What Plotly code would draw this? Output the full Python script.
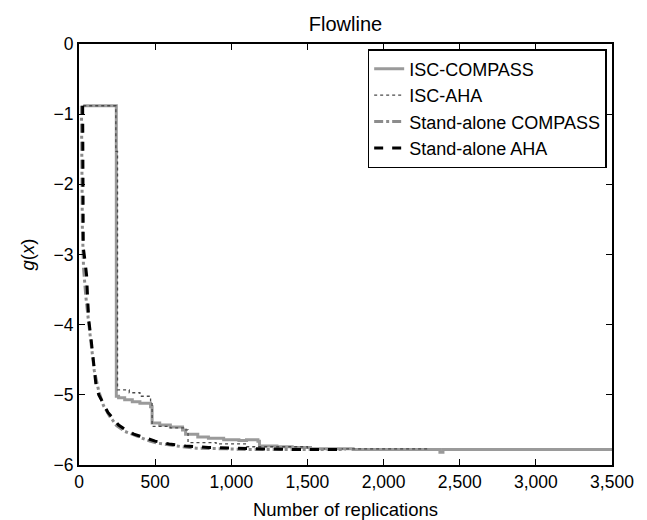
import plotly.graph_objects as go

# ---- data ----
isc_compass_x = [28, 245, 260, 300, 350, 400, 470, 480, 530, 600, 680, 700, 780, 850, 950,
                 1050, 1100, 1175, 1185, 1300, 1400, 1520, 1800, 2370, 2390, 3500]
isc_compass_y = [-0.88, -5.02, -5.04, -5.07, -5.10, -5.12, -5.17, -5.40, -5.43, -5.46, -5.50,
                 -5.56, -5.60, -5.62, -5.64, -5.65, -5.64, -5.66, -5.73, -5.74, -5.75, -5.77,
                 -5.78, -5.82, -5.78, -5.78]

isc_aha_x = [28, 242, 253, 330, 400, 470, 480, 600, 700, 716, 900, 1100, 1500, 2300]
isc_aha_y = [-0.88, -1.53, -4.93, -4.97, -5.02, -5.10, -5.45, -5.47, -5.50, -5.68, -5.70,
             -5.74, -5.77, -5.78]

sa_compass_x = [16, 18, 22, 30, 45, 65, 80, 100, 130, 160, 200, 247, 300, 356, 420, 465, 520,
                575, 680, 771, 870, 968, 1100, 1272, 1500, 1750]
sa_compass_y = [-0.88, -2.0, -2.6, -3.2, -3.6, -4.0, -4.3, -4.65, -4.95, -5.15, -5.30, -5.44,
                -5.52, -5.57, -5.62, -5.66, -5.69, -5.71, -5.74, -5.76, -5.77, -5.77, -5.78,
                -5.78, -5.78, -5.78]

sa_aha_x = [24, 26, 28, 40, 50, 57, 65, 79, 95, 111, 130, 155, 190, 221, 260, 308, 360, 417,
            500, 592, 700, 850, 1000, 1200, 1400, 1600, 1750]
sa_aha_y = [-0.88, -2.0, -2.9, -3.1, -3.3, -3.65, -3.95, -4.2, -4.55, -4.85, -5.0, -5.11,
            -5.25, -5.33, -5.43, -5.50, -5.56, -5.60, -5.66, -5.70, -5.73, -5.75, -5.76,
            -5.77, -5.78, -5.78, -5.78]

x_tick_vals = [0, 500, 1000, 1500, 2000, 2500, 3000, 3500]
x_tick_text = ["0", "500", "1,000", "1,500", "2,000", "2,500", "3,000", "3,500"]
y_tick_vals = [0, -1, -2, -3, -4, -5, -6]

FONT = "Liberation Sans, Arial, sans-serif"

fig = go.Figure()
fig.add_trace(go.Scatter(x=isc_compass_x, y=isc_compass_y, mode="lines", name="ISC-COMPASS",
                         line=dict(color="#9a9a9a", width=3, shape="hv")))
fig.add_trace(go.Scatter(x=isc_aha_x, y=isc_aha_y, mode="lines", name="ISC-AHA",
                         line=dict(color="#4a4a4a", width=1.3, dash="dot", shape="hv")))
fig.add_trace(go.Scatter(x=sa_compass_x, y=sa_compass_y, mode="lines", name="Stand-alone COMPASS",
                         line=dict(color="#8c8c8c", width=3, dash="dashdot")))
fig.add_trace(go.Scatter(x=sa_aha_x, y=sa_aha_y, mode="lines", name="Stand-alone AHA",
                         line=dict(color="#000000", width=3, dash="dash")))

axis_common = dict(showgrid=False, zeroline=False, showline=True, linecolor="black",
                   linewidth=2, mirror="ticks", ticks="inside", ticklen=6, tickwidth=1,
                   tickcolor="black", automargin=False,
                   tickfont=dict(family=FONT, size=17.5, color="black"))

fig.update_layout(
    width=647, height=520,
    margin=dict(l=79, r=35, t=44, b=55),
    paper_bgcolor="white", plot_bgcolor="white",
    font=dict(family=FONT, size=17.5, color="black"),
    title=dict(text="Flowline", x=0.5, xref="paper", y=1 - 24 / 520, yref="container",
               xanchor="center", yanchor="middle", font=dict(family=FONT, size=20, color="black")),
    xaxis=dict(range=[0, 3500], tickvals=x_tick_vals, ticktext=x_tick_text,
               title=dict(text="Number of replications", standoff=12,
                          font=dict(family=FONT, size=18.5)), **axis_common),
    yaxis=dict(range=[-6, 0], tickvals=y_tick_vals,
               title=dict(text="<i>g</i>(<i>x</i>)", standoff=14,
                          font=dict(family=FONT, size=18.5)), **axis_common),
    legend=dict(x=0.99, y=0.988, xanchor="right", yanchor="top", bgcolor="white",
                bordercolor="black", borderwidth=1.5, tracegroupgap=0,
                font=dict(family=FONT, size=18, color="black")),
    showlegend=True,
)

fig.write_html("out.html")
